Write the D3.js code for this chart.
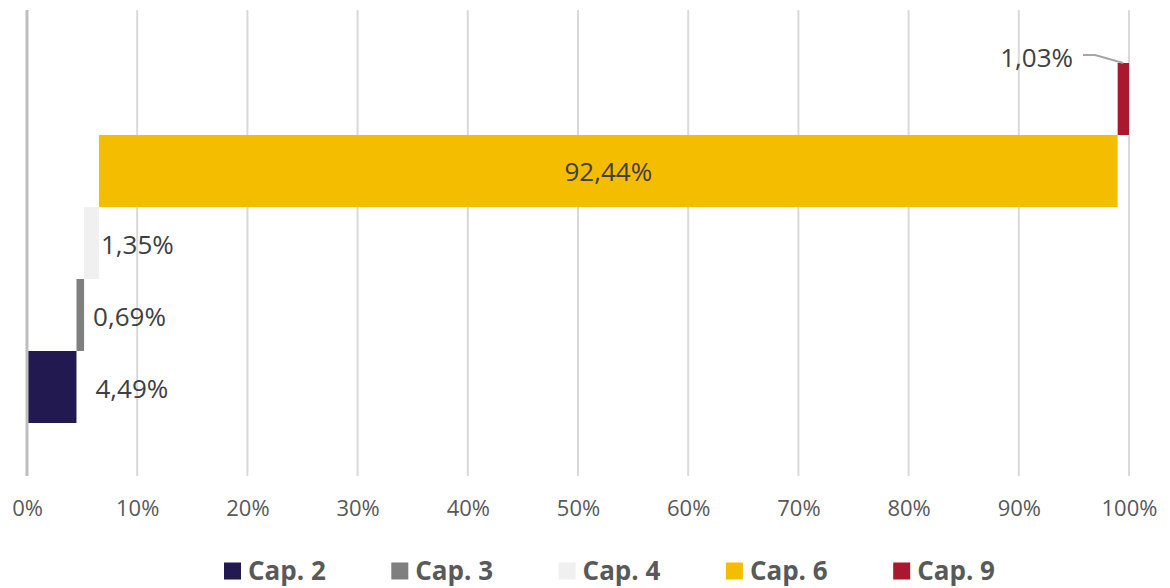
<!DOCTYPE html>
<html>
<head>
<meta charset="utf-8">
<script src="https://cdn.jsdelivr.net/npm/d3@7"></script>
<style>
  body { margin: 0; background: #fff; }
  text { font-family: "Open Sans", sans-serif; }
</style>
</head>
<body>
<script>
var categories = ["Cap. 2", "Cap. 3", "Cap. 4", "Cap. 6", "Cap. 9"];
var values = [4.49, 0.69, 1.35, 92.44, 1.03];
var labels = ["4,49%", "0,69%", "1,35%", "92,44%", "1,03%"];
var colors = ["#211950", "#7f7f7f", "#f0f0f0", "#f5bd00", "#a8192e"];
var ticks = [0, 10, 20, 30, 40, 50, 60, 70, 80, 90, 100];

var width = 1170, height = 588;
var margin = {top: 10, right: 41, bottom: 112, left: 27};

var svg = d3.select("body").append("svg")
    .attr("width", width)
    .attr("height", height);

var x = d3.scaleLinear().domain([0, 100]).range([margin.left, width - margin.right]);
var y = d3.scaleBand().domain(categories)
    .range([height - margin.bottom, margin.top])
    .paddingInner(0).paddingOuter(0.736);

// running start of each bar
var starts = [];
values.reduce(function(acc, v) { starts.push(acc); return acc + v; }, 0);

// gridlines
svg.append("g")
    .selectAll("line")
    .data(ticks.slice(1))
  .enter().append("line")
    .attr("x1", function(d) { return x(d); })
    .attr("x2", function(d) { return x(d); })
    .attr("y1", margin.top)
    .attr("y2", height - margin.bottom)
    .attr("stroke", "#d9d9d9")
    .attr("stroke-width", 2);

// axis labels
var xAxis = svg.append("g")
    .attr("transform", "translate(0," + (height - margin.bottom) + ")")
    .call(d3.axisBottom(x).tickValues(ticks).tickSize(0).tickPadding(24)
      .tickFormat(function(d) { return d + "%"; }));
xAxis.select(".domain").remove();
xAxis.selectAll("text")
    .attr("font-family", "Open Sans")
    .attr("font-size", "22px")
    .attr("fill", "#595959");

// bars
svg.append("g")
    .selectAll("rect")
    .data(categories)
  .enter().append("rect")
    .attr("x", function(d, i) { return x(starts[i]); })
    .attr("y", function(d) { return y(d); })
    .attr("width", function(d, i) { return x(starts[i] + values[i]) - x(starts[i]); })
    .attr("height", y.bandwidth())
    .attr("fill", function(d, i) { return colors[i]; });

// vertical axis line
svg.append("line")
    .attr("x1", x(0)).attr("x2", x(0))
    .attr("y1", margin.top).attr("y2", height - margin.bottom)
    .attr("stroke", "#bfbfbf")
    .attr("stroke-width", 3);

// data labels
var labelDx = [19, 9, 2];
var lab = svg.append("g")
    .attr("font-size", "26px")
    .attr("fill", "#404040");

categories.forEach(function(c, i) {
  var end = x(starts[i] + values[i]);
  var cy = y(c) + y.bandwidth() / 2;
  if (i < 3) {
    lab.append("text")
        .attr("x", end + labelDx[i])
        .attr("y", cy + 2)
        .attr("dy", "0.35em")
        .text(labels[i]);
  } else if (i === 3) {
    lab.append("text")
        .attr("x", (x(starts[i]) + end) / 2)
        .attr("y", cy + 1)
        .attr("dy", "0.35em")
        .attr("text-anchor", "middle")
        .text(labels[i]);
  } else {
    var mid = (x(starts[i]) + end) / 2;
    var lx = end - 56, ly = y(c) - 5;
    lab.append("text")
        .attr("x", lx)
        .attr("y", ly)
        .attr("dy", "0.35em")
        .attr("text-anchor", "end")
        .text(labels[i]);
    svg.append("polyline")
        .attr("points", [[lx + 10, ly - 3], [lx + 22, ly - 3], [mid, y(c)]].join(" "))
        .attr("fill", "none")
        .attr("stroke", "#a6a6a6")
        .attr("stroke-width", 2);
  }
});

// legend
var legend = svg.append("g")
    .attr("transform", "translate(224," + 571 + ")");
var item = legend.selectAll("g")
    .data(categories)
  .enter().append("g")
    .attr("transform", function(d, i) { return "translate(" + (i * 167.3) + ",0)"; });
item.append("rect")
    .attr("x", 0).attr("y", -8.5)
    .attr("width", 17).attr("height", 17)
    .attr("fill", function(d, i) { return colors[i]; });
item.append("text")
    .attr("x", 24)
    .attr("dy", "0.35em")
    .attr("font-size", "26px")
    .attr("font-weight", "bold")
    .attr("fill", "#595959")
    .text(function(d) { return d; });
</script>
</body>
</html>
